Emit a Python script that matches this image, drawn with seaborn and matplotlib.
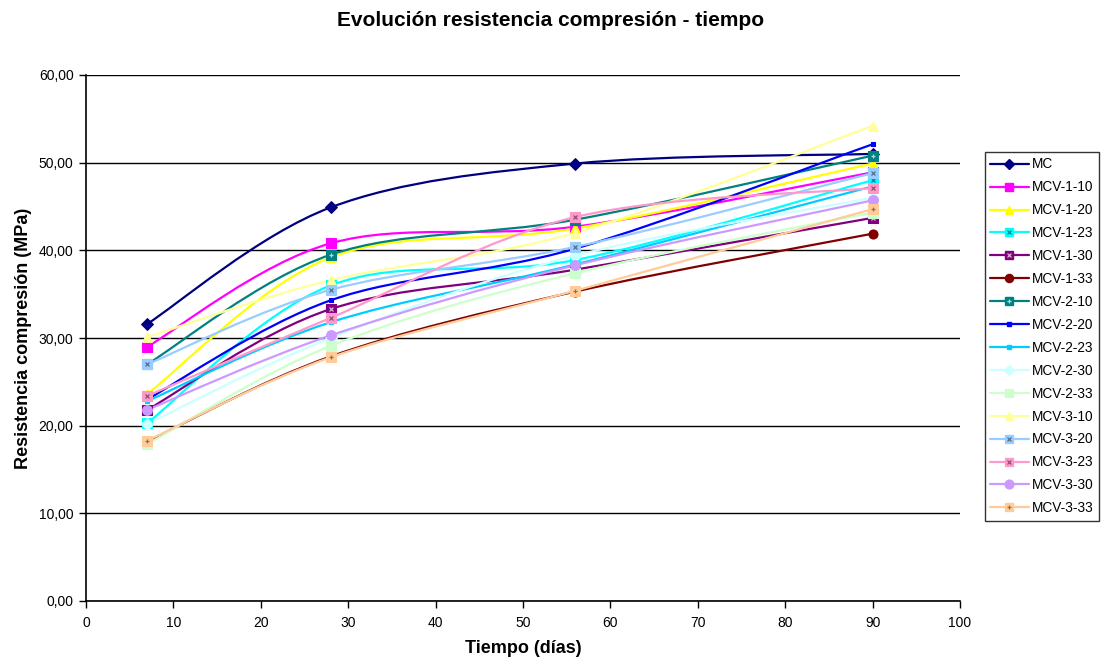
import matplotlib
matplotlib.use("Agg")
import matplotlib.pyplot as plt
import matplotlib.colors as mcolors
import seaborn as sns
import pandas as pd
from matplotlib.path import Path
from matplotlib.patches import PathPatch
from matplotlib.lines import Line2D
from matplotlib.ticker import FuncFormatter
from matplotlib.legend_handler import HandlerTuple

# ---- data ----
dias = [7, 28, 56, 90]
series_names = ["MC", "MCV-1-10", "MCV-1-20", "MCV-1-23", "MCV-1-30", "MCV-1-33",
                "MCV-2-10", "MCV-2-20", "MCV-2-23", "MCV-2-30", "MCV-2-33",
                "MCV-3-10", "MCV-3-20", "MCV-3-23", "MCV-3-30", "MCV-3-33"]
mc       = [31.6, 44.9, 49.9, 51.0]
mcv_1_10 = [29.0, 40.8, 42.7, 48.9]
mcv_1_20 = [23.6, 39.2, 42.5, 49.9]
mcv_1_23 = [20.3, 36.0, 38.9, 48.0]
mcv_1_30 = [21.8, 33.3, 37.8, 43.7]
mcv_1_33 = [18.2, 27.9, 35.3, 41.9]
mcv_2_10 = [27.0, 39.5, 43.5, 50.8]
mcv_2_20 = [23.0, 34.3, 40.2, 52.1]
mcv_2_23 = [22.8, 31.8, 38.4, 47.3]
mcv_2_30 = [20.2, 30.0, 39.4, 46.0]
mcv_2_33 = [17.9, 29.1, 37.4, 44.3]
mcv_3_10 = [30.1, 36.6, 42.0, 54.2]
mcv_3_20 = [27.0, 35.5, 40.4, 48.8]
mcv_3_23 = [23.4, 32.3, 43.8, 47.1]
mcv_3_30 = [21.8, 30.3, 38.3, 45.7]
mcv_3_33 = [18.3, 27.8, 35.4, 44.7]
values = [mc, mcv_1_10, mcv_1_20, mcv_1_23, mcv_1_30, mcv_1_33,
          mcv_2_10, mcv_2_20, mcv_2_23, mcv_2_30, mcv_2_33,
          mcv_3_10, mcv_3_20, mcv_3_23, mcv_3_30, mcv_3_33]
y_ticks = [0, 10, 20, 30, 40, 50, 60]
x_ticks = [0, 10, 20, 30, 40, 50, 60, 70, 80, 90, 100]

# ---- styles ----
colors = ["#000080", "#FF00FF", "#FFFF00", "#00FFFF", "#800080", "#800000",
          "#008080", "#0000FF", "#00CCFF", "#CCFFFF", "#CCFFCC",
          "#FFFF99", "#99CCFF", "#FF99CC", "#CC99FF", "#FFCC99"]
markers = ["D", "s", "^", "s", "s", "o", "s", "s", "s", "D", "s", "^", "s", "s", "o", "s"]
msizes  = [6, 6.5, 7, 6.5, 6.5, 6.5, 6.5, 3, 3.5, 6, 6.5, 7, 6.5, 6.5, 7, 6.5]
overlay = [None, None, None, "x", "x", None, "+", None, None, None, None, None, "x", "x", None, "+"]

sns.set_theme(style="white")
plt.rcParams["font.family"] = ["Liberation Sans", "DejaVu Sans"]
plt.rcParams["text.color"] = "black"
plt.rcParams["axes.labelcolor"] = "black"

fig = plt.figure(figsize=(11.02, 6.61), dpi=100)
ax = fig.add_axes([86 / 1102, 60 / 661, 874 / 1102, 526 / 661])

df = pd.DataFrame({"dias": dias * len(series_names),
                   "serie": [n for n in series_names for _ in dias],
                   "valor": [v for vals in values for v in vals]})


def smooth_path(xs, ys):
    pts = list(zip(xs, ys))
    n = len(pts)
    verts = [pts[0]]
    codes = [Path.MOVETO]
    for i in range(n - 1):
        p0 = pts[i - 1] if i > 0 else pts[i]
        p1 = pts[i]
        p2 = pts[i + 1]
        p3 = pts[i + 2] if i + 2 < n else pts[i + 1]
        c1 = (p1[0] + (p2[0] - p0[0]) / 6, p1[1] + (p2[1] - p0[1]) / 6)
        c2 = (p2[0] - (p3[0] - p1[0]) / 6, p2[1] - (p3[1] - p1[1]) / 6)
        verts += [c1, c2, p2]
        codes += [Path.CURVE4] * 3
    return Path(verts, codes)


def overlay_color(c):
    r, g, b = mcolors.to_rgb(c)
    lum = 0.3 * r + 0.59 * g + 0.11 * b
    if lum > 0.6:
        return (r * 0.55, g * 0.55, b * 0.55)
    return (r + (1 - r) * 0.7, g + (1 - g) * 0.7, b + (1 - b) * 0.7)


handles = []
for k, name in enumerate(series_names):
    sub = df[df["serie"] == name]
    col = colors[k]
    patch = PathPatch(smooth_path(sub["dias"].tolist(), sub["valor"].tolist()),
                      facecolor="none", edgecolor=col, lw=1.6, zorder=3 + k * 0.01)
    ax.add_patch(patch)
    sns.scatterplot(data=sub, x="dias", y="valor", ax=ax, marker=markers[k],
                    s=msizes[k] ** 2, color=col, edgecolor=col, linewidth=0.8,
                    zorder=4 + k * 0.01, legend=False)
    h_main = Line2D([], [], color=col, lw=1.6, marker=markers[k], ms=msizes[k] * 0.9,
                    mfc=col, mec=col)
    if overlay[k]:
        oc = overlay_color(col)
        ax.plot(sub["dias"], sub["valor"], ls="none", marker=overlay[k],
                ms=msizes[k] * 0.55, mew=0.9, color=oc, zorder=4.005 + k * 0.01)
        h_ov = Line2D([], [], ls="none", marker=overlay[k], ms=msizes[k] * 0.5,
                      mew=0.9, color=oc)
        handles.append((h_main, h_ov))
    else:
        handles.append(h_main)

ax.set_xlim(0, 100)
ax.set_ylim(0, 60)
ax.set_xticks(x_ticks)
ax.set_yticks(y_ticks)
ax.yaxis.set_major_formatter(FuncFormatter(lambda v, p: f"{v:.2f}".replace(".", ",")))
ax.xaxis.set_major_formatter(FuncFormatter(lambda v, p: f"{int(v)}"))
ax.grid(axis="y", color="black", lw=1.0)
ax.grid(axis="x", visible=False)
ax.set_axisbelow(True)
for s in ["top", "right"]:
    ax.spines[s].set_visible(False)
for s in ["left", "bottom"]:
    ax.spines[s].set_color("black")
    ax.spines[s].set_linewidth(1.2)
ax.tick_params(axis="both", direction="out", length=5, width=1, color="black",
               labelsize=10, labelcolor="black", bottom=True, left=True, pad=4)
ax.tick_params(axis="x", pad=6)

ax.set_xlabel("Tiempo (días)", fontsize=13, fontweight="bold", labelpad=7, color="black")
ax.set_ylabel("Resistencia compresión (MPa)", fontsize=13, fontweight="bold",
              labelpad=5, color="black")
fig.text(0.5, 1 - 20 / 661, "Evolución resistencia compresión - tiempo",
         ha="center", va="center", fontsize=15, fontweight="bold", color="black")

leg = fig.legend(handles, series_names, loc="upper left",
                 bbox_to_anchor=(985 / 1102, 1 - 152 / 661),
                 handler_map={tuple: HandlerTuple(ndivide=1)},
                 fontsize=9.8, frameon=True, fancybox=False, edgecolor="black",
                 handlelength=2.8, handletextpad=0.25, labelspacing=0.655,
                 borderpad=0.4, borderaxespad=0)
leg.get_frame().set_linewidth(1.0)
for t in leg.get_texts():
    t.set_color("black")

fig.savefig("out.png", dpi=100, facecolor="white")
